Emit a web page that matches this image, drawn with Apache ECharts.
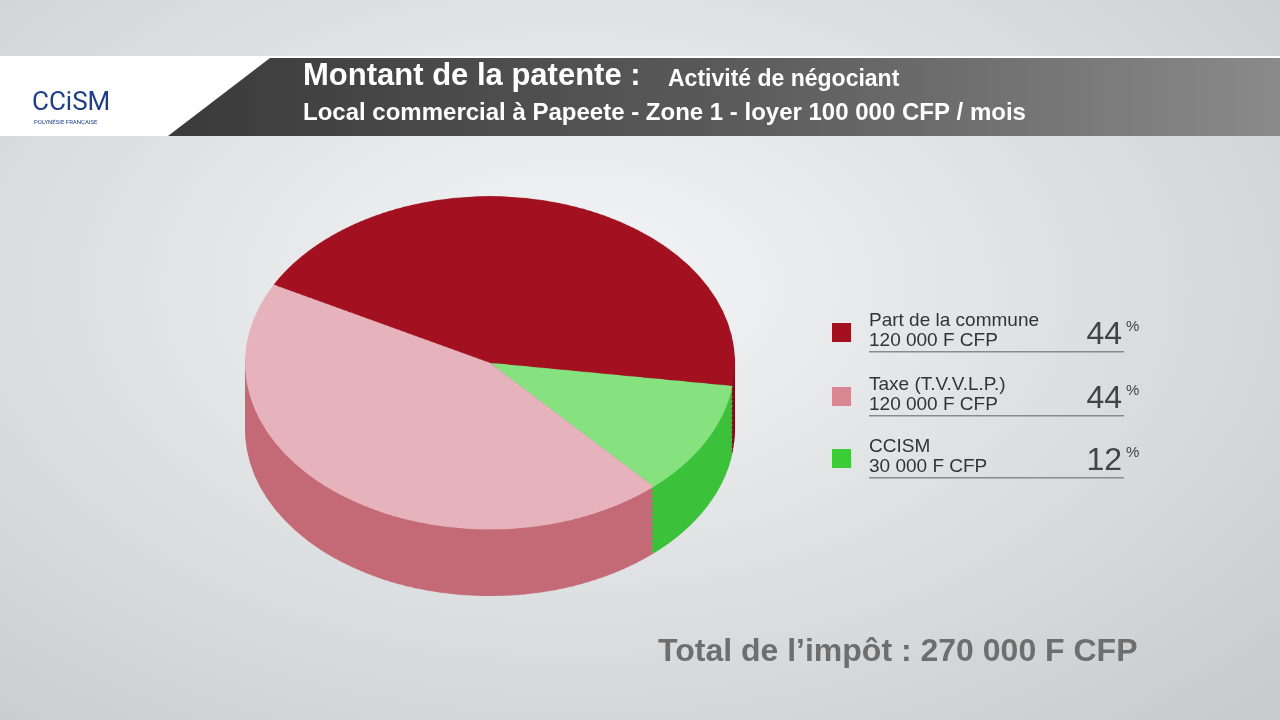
<!DOCTYPE html>
<html>
<head>
<meta charset="utf-8">
<script src="https://cdn.jsdelivr.net/npm/echarts@6/dist/echarts.min.js"></script>
<style>
    body { margin: 0; width: 1280px; height: 720px; overflow: hidden;
        background: radial-gradient(ellipse at 45% 40%, #f4f5f6 0%, #d9dcde 60%, #c6cacd 100%); }
    #frame { position: absolute; left: 0; top: 0; width: 1280px; height: 720px; }
    #pie { position: absolute; left: 190px; top: 186px; width: 600px; height: 640px; transform-origin: 0 0; transform: scaleY(0.68); }
</style>
</head>
<body>
<div id="frame"></div>
<div id="pie"></div>
<script>
// data
var names = ['Part de la commune', 'Taxe (T.V.V.L.P.)', 'CCISM'];
var amounts = ['120 000 F CFP', '120 000 F CFP', '30 000 F CFP'];
var percents = ['44', '44', '12'];
var values = [120000, 120000, 30000];
var topColors = ['#a3101f', '#e6b3bc', '#86e27f'];
var sideColors = ['#7e0c18', '#c46a77', '#3cc23a'];
var legendColors = ['#a3101f', '#d98893', '#3ccc36'];

// pie order drawn clockwise: red (back), green (front right), pink (front left)
var order = [0, 2, 1];

var pieChart = echarts.init(document.getElementById('pie'));
var series = [];
var steps = 14;
for (var s = steps; s >= 0; s--) {
    var isTop = s == 0;
    series.push({
        type: 'pie', radius: 245, center: [300, 260 + s * 7],
        startAngle: 152, silent: true, animation: false,
        label: {show: false}, labelLine: {show: false},
        itemStyle: {borderWidth: 0},
        data: order.map(function (i) {
            return {name: names[i], value: values[i],
                itemStyle: {color: isTop ? topColors[i] : sideColors[i]}};
        })
    });
}
pieChart.setOption({series: series});

var frame = echarts.init(document.getElementById('frame'));
var g = [
    {type: 'rect', shape: {x: 0, y: 56, width: 1280, height: 80}, style: {fill: '#ffffff'}},
    {type: 'polygon', shape: {points: [[168, 136], [270, 58], [1280, 58], [1280, 136]]},
        style: {fill: new echarts.graphic.LinearGradient(0, 0, 1, 0, [{offset: 0, color: '#3a3a3a'}, {offset: 0.5, color: '#5a5a5a'}, {offset: 1, color: '#8a8a8a'}])}},
    {type: 'text', x: 32, y: 90, style: {text: 'CCiSM', font: '26px Roboto', fill: '#1d3f8a'}},
    {type: 'text', x: 34, y: 119, style: {text: 'POLYNÉSIE FRANÇAISE', font: '6px Roboto', fill: '#1d3f8a'}},
    {type: 'text', x: 303, y: 61, style: {text: 'Montant de la patente :', font: 'bold 31px "Liberation Sans"', fill: '#ffffff'}},
    {type: 'text', x: 668, y: 68, style: {text: 'Activité de négociant', font: 'bold 23px "Liberation Sans"', fill: '#ffffff'}},
    {type: 'text', x: 303, y: 101, style: {text: 'Local commercial à Papeete - Zone 1 - loyer 100 000 CFP / mois', font: 'bold 24px "Liberation Sans"', fill: '#ffffff'}},
    {type: 'text', x: 658, y: 636, style: {text: 'Total de l\u2019impôt : 270 000 F CFP', font: 'bold 32px "Liberation Sans"', fill: '#6e6e6e'}}
];
var rowY = [311, 375, 437];
for (var i = 0; i < names.length; i++) {
    var y = rowY[i];
    g.push({type: 'rect', shape: {x: 832, y: y + 12, width: 19, height: 19}, style: {fill: legendColors[i]}});
    g.push({type: 'text', x: 869, y: y, style: {text: names[i], font: '19px "Liberation Sans Narrow", "Liberation Sans"', fill: '#333'}});
    g.push({type: 'text', x: 869, y: y + 20, style: {text: amounts[i], font: '19px "Liberation Sans Narrow", "Liberation Sans"', fill: '#333'}});
    g.push({type: 'text', x: 1122, y: y + 8, style: {text: percents[i], font: '32px "Liberation Sans Narrow", "Liberation Sans"', fill: '#444', align: 'right'}});
    g.push({type: 'text', x: 1126, y: y + 8, style: {text: '%', font: '15px "Liberation Sans"', fill: '#444'}});
    g.push({type: 'rect', shape: {x: 869, y: y + 40, width: 255, height: 1.5}, style: {fill: '#8a8a8a'}});
}
frame.setOption({graphic: g});
</script>
</body>
</html>
